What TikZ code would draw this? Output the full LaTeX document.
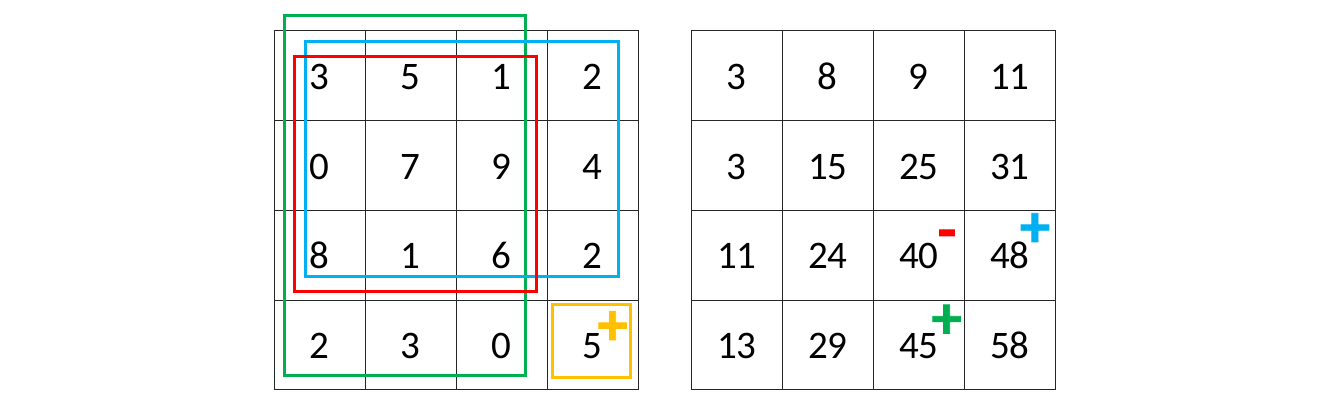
\documentclass[tikz,border=0pt]{standalone}
\usepackage{fontspec}
\setmainfont{Carlito}
\newfontfamily\signfont{Carlito}[BoldFeatures={FakeBold=1.5}]
\usetikzlibrary{matrix, positioning}
\definecolor{Grn}{HTML}{00B050}
\definecolor{Sky}{HTML}{00B0F0}
\definecolor{Rd} {HTML}{FF0000}
\definecolor{Amb}{HTML}{FFC000}
\tikzset{
  cell/.style={
    draw=black!85, line width=0.9pt,
    minimum width=91pt, minimum height=89.8pt,
    inner sep=0pt, anchor=center,
    text height=27.6pt, text depth=0pt,
    font=\fontsize{39}{47}\selectfont,
  },
  tbl/.style={
    matrix of nodes, nodes={cell},
    column sep=-0.9pt, row sep=-0.9pt,
    inner sep=0pt, anchor=north west,
  },
  win/.style args={#1}{
    draw=#1, line width=3pt,
  },
  sgn/.style args={#1}{
    text=#1, font=\fontsize{60}{60}\signfont\bfseries,
    inner sep=0pt, anchor=base,
  },
}

\begin{document}
\begin{tikzpicture}[x=1pt,y=-1pt]
    \useasboundingbox[fill=white] (0,0) rectangle (1328,406);
    \matrix[tbl] (lft) at (273.3,30) {
      3 & 5 & 1 & 2 \\
      0 & 7 & 9 & 4 \\
      8 & 1 & 6 & 2 \\
      2 & 3 & 0 & 5 \\
    };
    \matrix[tbl] (rgt) at (690.7,30) {
      3  & 8  & 9  & 11 \\
      3  & 15 & 25 & 31 \\
      11 & 24 & 40 & 48 \\
      13 & 29 & 45 & 58 \\
    };
    % windows on the source grid
    \draw[win=Grn] (284.3,15.7) rectangle (525,375.7);
    \draw[win=Sky] (305,42) rectangle (618.7,276.7);
    \draw[win=Rd]  (294.7,56.7) rectangle (536.7,291);
    \draw[win=Amb] (552.3,304.7) rectangle (630,377.7);
    % signs
    \node[sgn=Amb] (pa) at (612.7,344.6) {+};
    \node[sgn=Rd]  (mr) at (947,250)     {-};
    \node[sgn=Sky] (ps) at (1035,246.5)  {+};
    \node[sgn=Grn] (pg) at (946.7,338)   {+};
\end{tikzpicture}
\end{document}
